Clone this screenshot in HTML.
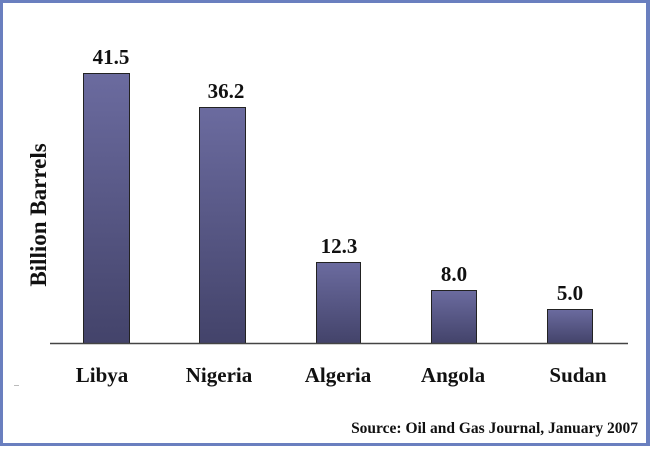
<!DOCTYPE html>
<html><head><style>
html,body{margin:0;padding:0;background:#fff}
svg text{font-family:"Liberation Serif",serif;font-weight:bold}
</style></head><body>
<svg width="650" height="446" xmlns="http://www.w3.org/2000/svg">
<defs><linearGradient id="g" x1="0" y1="0" x2="0" y2="1"><stop offset="0" stop-color="#6b6b9f"/><stop offset="1" stop-color="#43436a"/></linearGradient></defs>
<rect x="0" y="0" width="650" height="446" fill="#6a7fbf"/>
<rect x="3" y="3" width="643" height="440" fill="#fff"/>
<g fill="url(#g)" stroke="#222" stroke-width="1">
<rect x="83.5" y="73.5" width="46" height="270"/>
<rect x="199.5" y="107.5" width="46" height="236"/>
<rect x="316.5" y="262.5" width="44" height="81"/>
<rect x="431.5" y="290.5" width="45" height="53"/>
<rect x="547.5" y="309.5" width="45" height="34"/>
</g>
<line x1="50" y1="343.5" x2="628" y2="343.5" stroke="#444" stroke-width="1.5"/>
<line x1="14" y1="385.5" x2="19" y2="385.5" stroke="#bbb"/>
<g font-size="21" text-anchor="middle" fill="#111">
<text x="111" y="64">41.5</text>
<text x="226" y="98">36.2</text>
<text x="339" y="253">12.3</text>
<text x="454" y="281">8.0</text>
<text x="570" y="300">5.0</text>
<text x="102" y="382">Libya</text>
<text x="219" y="382">Nigeria</text>
<text x="338" y="382">Algeria</text>
<text x="453" y="382">Angola</text>
<text x="578" y="382">Sudan</text>
<text transform="translate(46,215) rotate(-90)" font-size="23">Billion Barrels</text>
</g>
<text x="638" y="433" font-size="15.5" text-anchor="end" fill="#111">Source: Oil and Gas Journal, January 2007</text>
</svg>
</body></html>
